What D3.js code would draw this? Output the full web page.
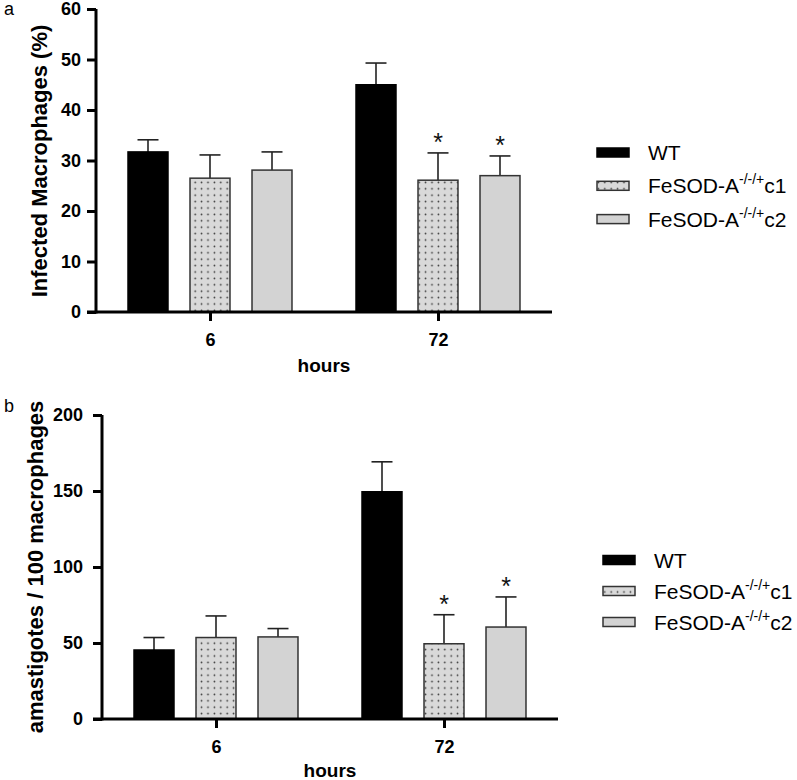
<!DOCTYPE html>
<html><head><meta charset="utf-8">
<script src="https://cdn.jsdelivr.net/npm/d3@7"></script>
<style>body{margin:0;background:#fff}svg{display:block}text{font-family:"Liberation Sans",Arial,Helvetica,sans-serif}</style>
</head><body>
<svg id="c" width="797" height="780"></svg>
<script>
// ---- data ----
const hours = ["6", "72"];
const series = ["WT", "FeSOD-A c1", "FeSOD-A c2"];
// panel a: Infected Macrophages (%)
const infectedMean = [[31.7, 26.5, 28.1], [45.0, 26.1, 27.0]];
const infectedErr  = [[34.1, 31.1, 31.7], [49.3, 31.5, 30.9]];
const infectedSig  = [[false, false, false], [false, true, true]];
const infectedTicks = [0, 10, 20, 30, 40, 50, 60];
// panel b: amastigotes / 100 macrophages
const amastMean = [[45.4, 53.6, 54.0], [149.5, 49.5, 60.5]];
const amastErr  = [[53.6, 67.8, 59.5], [169.2, 68.6, 80.3]];
const amastSig  = [[false, false, false], [false, true, true]];
const amastTicks = [0, 50, 100, 150, 200];

const svg = d3.select("#c");
const defs = svg.append("defs");
const pat = defs.append("pattern").attr("id", "dots").attr("patternUnits", "userSpaceOnUse")
  .attr("width", 6.4).attr("height", 6.4);
pat.append("rect").attr("width", 6.4).attr("height", 6.4).attr("fill", "#d9d9d9");
pat.append("circle").attr("cx", 3.2).attr("cy", 3.2).attr("r", 0.85).attr("fill", "#333");

const fills = ["#000", "url(#dots)", "#d3d3d3"];
const strokes = ["#000", "#333", "#333"];

function panel(o) {
  const g = svg.append("g");
  const y = d3.scaleLinear().domain([0, o.max]).range([o.y0, o.y1]);
  const x0 = d3.scalePoint().domain(hours).range([o.xl, o.xr]).padding(0.5);
  const x1 = d3.scaleBand().domain(series).range([-93, 93]).paddingInner(0.355).paddingOuter(0.1775);

  // bars
  hours.forEach((h, i) => {
    series.forEach((s, j) => {
      const bx = x0(h) + x1(s);
      const cx = bx + x1.bandwidth() / 2;
      // error bar
      g.append("line").attr("x1", cx).attr("x2", cx).attr("y1", y(o.mean[i][j])).attr("y2", y(o.err[i][j]))
        .attr("stroke", "#222").attr("stroke-width", 1.6);
      g.append("line").attr("x1", cx - 10.5).attr("x2", cx + 10.5).attr("y1", y(o.err[i][j])).attr("y2", y(o.err[i][j]))
        .attr("stroke", "#222").attr("stroke-width", 1.6);
      g.append("rect").attr("x", bx).attr("y", y(o.mean[i][j])).attr("width", x1.bandwidth())
        .attr("height", y(0) - y(o.mean[i][j]))
        .attr("fill", fills[j]).attr("stroke", strokes[j]).attr("stroke-width", 1.5);
      if (o.sig[i][j]) {
        g.append("text").attr("x", cx).attr("y", y(o.err[i][j]) - 1.5).attr("text-anchor", "middle")
          .attr("font-size", 25).attr("fill", "#111").text("*");
      }
    });
  });

  // y axis
  const ya = g.append("g").attr("transform", `translate(${o.xl},0)`)
    .call(d3.axisLeft(y).tickValues(o.ticks).tickSize(9).tickPadding(o.tickPad).tickFormat(d3.format("d")));
  ya.select(".domain").attr("stroke", "#000").attr("stroke-width", 3).attr("d", `M0,${o.y0 + 1.5}V${o.y1}`);
  ya.selectAll(".tick line").attr("stroke", "#000").attr("stroke-width", 3);
  ya.selectAll(".tick text").attr("font-size", 18).attr("font-weight", "bold").attr("fill", "#000")
    .attr("font-family", '"Liberation Sans",Arial,sans-serif');

  // x axis
  const xa = g.append("g").attr("transform", `translate(0,${o.y0})`)
    .call(d3.axisBottom(x0).tickSize(9).tickPadding(12));
  xa.select(".domain").attr("stroke", "#000").attr("stroke-width", 3).attr("d", `M${o.xl - 9},0H${o.xr}`);
  xa.selectAll(".tick line").attr("stroke", "#000").attr("stroke-width", 3);
  xa.selectAll(".tick text").attr("font-size", 18).attr("font-weight", "bold").attr("fill", "#000")
    .attr("font-family", '"Liberation Sans",Arial,sans-serif');

  // titles
  g.append("text").attr("x", (o.xl + o.xr) / 2).attr("y", o.hoursY).attr("text-anchor", "middle")
    .attr("font-size", 19).attr("font-weight", "bold").text("hours");
  g.append("text").attr("transform", `translate(${o.titleX},${o.titleY}) rotate(-90)`).attr("text-anchor", "middle")
    .attr("font-size", 22).attr("font-weight", "bold").text(o.title);
  g.append("text").attr("x", 4).attr("y", o.letterY).attr("font-size", 18).text(o.letter);

  // legend
  series.forEach((s, j) => {
    const ly = o.legY + j * o.legStep;
    g.append("rect").attr("x", o.legX).attr("y", ly - 4.5).attr("width", 32).attr("height", 9)
      .attr("fill", fills[j]).attr("stroke", strokes[j]).attr("stroke-width", 1.5);
    const t = g.append("text").attr("x", o.legX + 51).attr("y", ly + 7.5).attr("font-size", 21);
    if (j === 0) t.text("WT");
    else {
      t.append("tspan").text("FeSOD-A");
      t.append("tspan").attr("dy", -9).attr("font-size", 14).text("-/-/+");
      t.append("tspan").attr("dy", 9).text(j === 1 ? "c1" : "c2");
    }
  });
}

panel({ max: 60, y0: 312, y1: 9, xl: 96, xr: 552, mean: infectedMean, err: infectedErr, sig: infectedSig,
  ticks: infectedTicks, tickPad: 6, hoursY: 372, title: "Infected Macrophages (%)", titleX: 47, titleY: 161,
  letter: "a", letterY: 15, legX: 597, legY: 152.5, legStep: 33.3 });
panel({ max: 200, y0: 719, y1: 415, xl: 102, xr: 558, mean: amastMean, err: amastErr, sig: amastSig,
  ticks: amastTicks, tickPad: 10, hoursY: 777, title: "amastigotes / 100 macrophages", titleX: 43, titleY: 567,
  letter: "b", letterY: 412, legX: 603, legY: 560, legStep: 31 });
</script>
</body></html>
